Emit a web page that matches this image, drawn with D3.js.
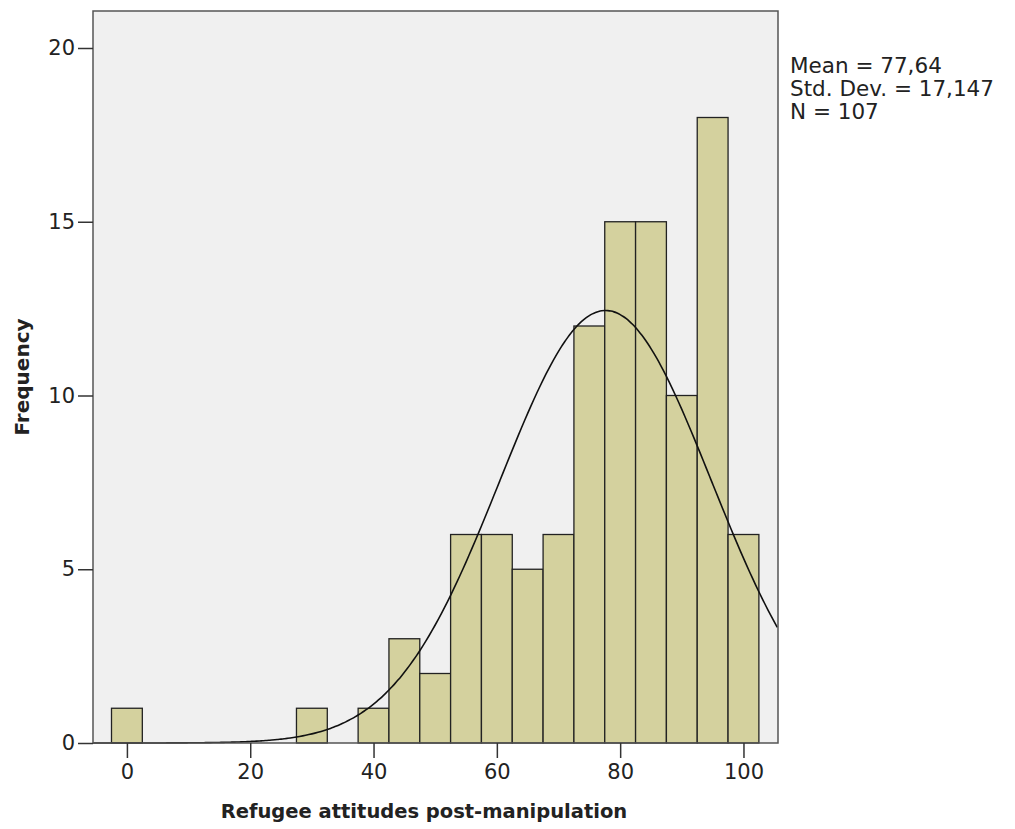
<!DOCTYPE html>
<html>
<head>
<meta charset="utf-8">
<script src="https://cdn.jsdelivr.net/npm/d3@7"></script>
<style>
  body { margin: 0; background: #fff; }
  text { font-family: "DejaVu Sans", sans-serif; fill: #222; }
</style>
</head>
<body>
<div id="chart"></div>
<script>
// histogram bins (centre of 5-point bin) and counts
const binCenters = [0, 30, 40, 45, 50, 55, 60, 65, 70, 75, 80, 85, 90, 95, 100];
const counts = [1, 1, 1, 3, 2, 6, 6, 5, 6, 12, 15, 15, 10, 18, 6];
const binWidth = 5;
const xTicks = [0, 20, 40, 60, 80, 100];
const yTicks = [0, 5, 10, 15, 20];
const statLines = ["Mean = 77,64", "Std. Dev. = 17,147", "N = 107"];
const mean = 77.64, sd = 17.147, n = 107;

const W = 1015, H = 829;
const plot = { left: 93, top: 11, right: 778, bottom: 743 };

const svg = d3.select("#chart").append("svg")
    .attr("width", W)
    .attr("height", H);

const x = d3.scaleLinear()
    .domain([-5.5, 105.6])
    .range([plot.left, plot.right]);

const y = d3.scaleLinear()
    .domain([0, 20])
    .range([plot.bottom, 48]);

// plot background
svg.append("rect")
    .attr("x", plot.left)
    .attr("y", plot.top)
    .attr("width", plot.right - plot.left)
    .attr("height", plot.bottom - plot.top)
    .attr("fill", "#f0f0f0");

// bars
svg.selectAll(".bar")
    .data(binCenters)
    .enter().append("rect")
    .attr("class", "bar")
    .attr("x", d => x(d - binWidth / 2))
    .attr("width", x(binWidth) - x(0))
    .attr("y", (d, i) => y(counts[i]))
    .attr("height", (d, i) => y(0) - y(counts[i]))
    .attr("fill", "#d4d19e")
    .attr("stroke", "#222")
    .attr("stroke-width", 1.3);

// normal curve from the reported mean / sd
const curvePts = d3.range(-5.5, 105.6, 0.5).map(v => [v,
    n * binWidth * Math.exp(-0.5 * Math.pow((v - mean) / sd, 2)) / (sd * Math.sqrt(2 * Math.PI))]);

svg.append("path")
    .datum(curvePts)
    .attr("fill", "none")
    .attr("stroke", "#111")
    .attr("stroke-width", 1.6)
    .attr("d", d3.line().x(d => x(d[0])).y(d => y(d[1])).curve(d3.curveBasis));

// frame
svg.append("rect")
    .attr("x", plot.left)
    .attr("y", plot.top)
    .attr("width", plot.right - plot.left)
    .attr("height", plot.bottom - plot.top)
    .attr("fill", "none")
    .attr("stroke", "#555")
    .attr("stroke-width", 1.5);

// axes
const xAxis = svg.append("g")
    .attr("transform", "translate(0," + plot.bottom + ")")
    .call(d3.axisBottom(x).tickValues(xTicks).tickSize(15).tickPadding(6));
const yAxis = svg.append("g")
    .attr("transform", "translate(" + plot.left + ",0)")
    .call(d3.axisLeft(y).tickValues(yTicks).tickSize(15).tickPadding(3));

[xAxis, yAxis].forEach(g => {
    g.select(".domain").remove();
    g.selectAll(".tick line").attr("stroke", "#333").attr("stroke-width", 1.5);
    g.selectAll(".tick text")
        .style("font-family", "DejaVu Sans, sans-serif")
        .style("font-size", "21px")
        .attr("fill", "#222");
});

// axis titles
svg.append("text")
    .attr("x", 424)
    .attr("y", 818)
    .attr("text-anchor", "middle")
    .style("font-size", "19.5px")
    .style("font-weight", "bold")
    .text("Refugee attitudes post-manipulation");

svg.append("text")
    .attr("transform", "translate(29,377)rotate(-90)")
    .attr("text-anchor", "middle")
    .style("font-size", "20px")
    .style("font-weight", "bold")
    .text("Frequency");

// stats box
svg.selectAll(".stat")
    .data(statLines)
    .enter().append("text")
    .attr("class", "stat")
    .attr("x", 790)
    .attr("y", (d, i) => 73 + i * 23)
    .style("font-size", "21.5px")
    .text(d => d);
</script>
</body>
</html>
